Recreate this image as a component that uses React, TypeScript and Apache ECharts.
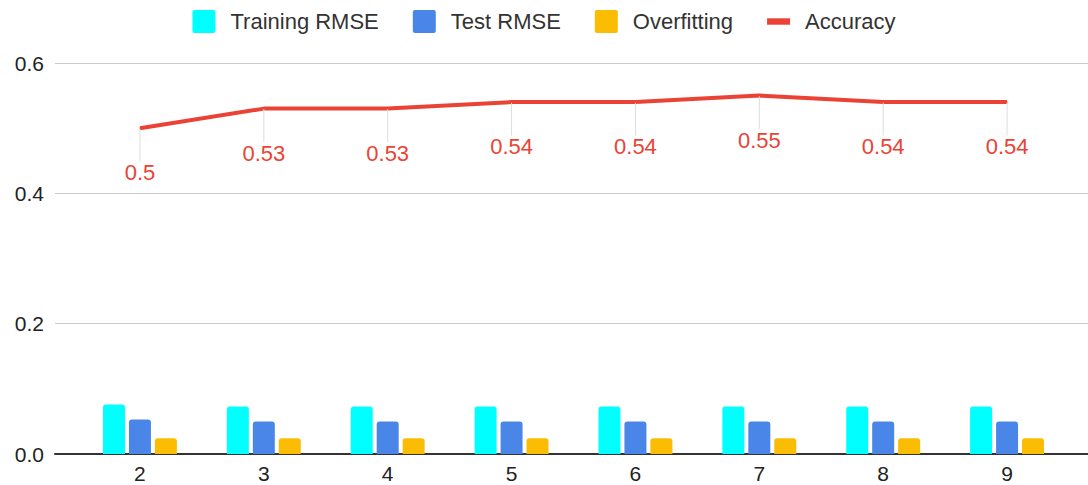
import React, { useEffect, useRef } from "react";
import * as echarts from "echarts";

const categories = ["2", "3", "4", "5", "6", "7", "8", "9"];
const trainingRMSE = [0.076, 0.073, 0.073, 0.073, 0.073, 0.073, 0.073, 0.073];
const testRMSE = [0.053, 0.05, 0.05, 0.05, 0.05, 0.05, 0.05, 0.05];
const overfitting = [0.024, 0.024, 0.024, 0.024, 0.024, 0.024, 0.024, 0.024];
const accuracy = [0.5, 0.53, 0.53, 0.54, 0.54, 0.55, 0.54, 0.54];

const squareIcon = "path://M2,0 H21 Q23,0 23,2 V21 Q23,23 21,23 H2 Q0,23 0,21 V2 Q0,0 2,0 Z";

export default function App() {
  const ref = useRef<HTMLDivElement>(null);
  useEffect(() => {
    if (!ref.current) return;
    const chart = echarts.init(ref.current, null, { renderer: "svg" });
    const font = "'Liberation Sans', Arial, sans-serif";
    chart.setOption({
      animation: false,
      textStyle: { fontFamily: font },
      legend: {
        top: 5,
        left: "center",
        itemWidth: 23,
        itemHeight: 23,
        itemGap: 34,
        textStyle: { fontSize: 22, color: "#333", fontFamily: font, padding: [0, 0, 0, 10] },
        data: [
          { name: "Training RMSE", icon: squareIcon },
          { name: "Test RMSE", icon: squareIcon },
          { name: "Overfitting", icon: squareIcon },
          { name: "Accuracy", icon: "path://M0,0 L25,0 L25,7 L0,7 Z" },
        ],
      },
      grid: [
        { left: 78, right: 19, top: 63, bottom: 31 },
        { left: 55, right: 0, top: 63, bottom: 31 },
      ],
      xAxis: [
        {
          type: "category",
          data: categories,
          gridIndex: 0,
          axisLine: { show: false },
          axisTick: { show: false },
          axisLabel: { fontSize: 21, color: "#222", margin: 9, fontFamily: font },
        },
        {
          type: "value",
          gridIndex: 1,
          min: 0,
          max: 1,
          axisLabel: { show: false },
          axisTick: { show: false },
          splitLine: { show: false },
          axisLine: { show: true, onZero: false, lineStyle: { color: "#333", width: 2 } },
          position: "bottom",
        },
      ],
      yAxis: [
        {
          type: "value",
          gridIndex: 0,
          min: 0,
          max: 0.6,
          interval: 0.2,
          axisLabel: { show: false },
          axisLine: { show: false },
          axisTick: { show: false },
          splitLine: { show: false },
        },
        {
          type: "value",
          gridIndex: 1,
          min: 0,
          max: 0.6,
          interval: 0.2,
          axisLine: { show: false },
          axisTick: { show: false },
          axisLabel: {
            fontSize: 21,
            color: "#222",
            margin: 11,
            fontFamily: font,
            formatter: (v: number) => v.toFixed(1),
          },
          splitLine: { show: true, lineStyle: { color: "#cccccc", width: 1 } },
        },
      ],
      series: [
        {
          name: "Training RMSE",
          type: "bar",
          data: trainingRMSE,
          barWidth: 22,
          barGap: "18%",
          itemStyle: { color: "#00ffff", borderRadius: [3, 3, 0, 0] },
        },
        {
          name: "Test RMSE",
          type: "bar",
          data: testRMSE,
          barWidth: 22,
          barGap: "18%",
          itemStyle: { color: "#4a86e8", borderRadius: [3, 3, 0, 0] },
        },
        {
          name: "Overfitting",
          type: "bar",
          data: overfitting,
          barWidth: 22,
          barGap: "18%",
          itemStyle: { color: "#fbbc04", borderRadius: [3, 3, 0, 0] },
        },
        {
          name: "Accuracy",
          type: "line",
          data: accuracy,
          symbol: "circle",
          symbolSize: 1,
          showSymbol: true,
          lineStyle: { color: "#ea4335", width: 4 },
          itemStyle: { color: "#ea4335" },
          label: {
            show: true,
            position: "bottom",
            distance: 5,
            fontSize: 22,
            color: "#ea4335",
            fontFamily: font,
          },
          labelLayout: { dy: 28 },
          labelLine: { show: true, lineStyle: { color: "#dddddd", width: 1 } },
        },
      ],
    });
    return () => chart.dispose();
  }, []);
  return (
    <div
      ref={ref}
      style={{ position: "absolute", left: 0, top: 0, width: 1088, height: 485, background: "#fff" }}
    />
  );
}
